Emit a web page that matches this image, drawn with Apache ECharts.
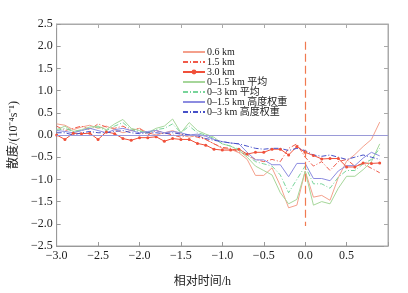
<!DOCTYPE html>
<html>
<head>
<meta charset="utf-8">
<script src="https://cdn.jsdelivr.net/npm/echarts@6/dist/echarts.min.js"></script>
<style>
html, body { margin: 0; padding: 0; background: #fff; }
#main { width: 408px; height: 293px; }
</style>
</head>
<body>
<div id="main"></div>
<script>
var times = [-3.0, -2.9, -2.8, -2.7, -2.6, -2.5, -2.4, -2.3, -2.2, -2.1,
    -2.0, -1.9, -1.8, -1.7, -1.6, -1.5, -1.4, -1.3, -1.2, -1.1,
    -1.0, -0.9, -0.8, -0.7, -0.6, -0.5, -0.4, -0.3, -0.2, -0.1,
    0.0, 0.1, 0.2, 0.3, 0.4, 0.5, 0.6, 0.7, 0.8, 0.9];

var km06 = [0.25, 0.22, 0.12, 0.18, 0.22, 0.15, 0.2, 0.12, 0.05, 0.1,
    0.15, 0.05, 0.0, 0.05, 0.1, 0.02, -0.05, 0.0, -0.1, -0.2,
    -0.3, -0.32, -0.4, -0.55, -0.91, -0.91, -0.74, -1.14, -1.64, -1.58,
    -0.81, -1.4, -1.36, -1.47, -0.96, -0.59, -0.44, -0.26, -0.1, 0.29];
var km15 = [0.2, 0.1, 0.15, 0.2, 0.12, 0.25, 0.18, 0.15, 0.2, 0.1,
    0.15, 0.0, 0.1, 0.05, 0.0, -0.05, 0.0, -0.05, -0.1, -0.2,
    -0.28, -0.3, -0.38, -0.45, -0.55, -0.6, -0.55, -0.6, -0.3, -0.2,
    -0.5, -0.7, -0.6, -0.8, -0.6, -0.55, -0.7, -0.65, -0.75, -0.85];
var km30 = [0.0, -0.1, 0.04, 0.03, 0.04, -0.1, 0.07, 0.03, -0.08, -0.12,
    -0.06, -0.06, -0.04, -0.14, -0.08, -0.1, -0.1, -0.19, -0.23, -0.32,
    -0.34, -0.34, -0.32, -0.43, -0.39, -0.39, -0.32, -0.32, -0.45, -0.26,
    -0.39, -0.46, -0.54, -0.53, -0.53, -0.72, -0.72, -0.63, -0.64, -0.63];
var avg15 = [0.12, 0.2, 0.08, 0.12, 0.18, 0.2, 0.12, 0.25, 0.35, 0.15,
    0.1, 0.05, 0.15, 0.2, 0.36, 0.05, 0.28, 0.1, 0.02, -0.05,
    -0.2, -0.25, -0.35, -0.5, -0.7, -0.8, -0.9, -1.3, -1.55, -1.45,
    -0.82, -1.58, -1.5, -1.55, -1.2, -0.93, -0.93, -0.78, -0.6, -0.2];
var avg30 = [0.1, 0.15, 0.08, 0.1, 0.15, 0.18, 0.1, 0.2, 0.28, 0.12,
    0.08, 0.05, 0.12, 0.15, 0.25, 0.05, 0.2, 0.05, 0.0, -0.08,
    -0.2, -0.25, -0.32, -0.45, -0.6, -0.65, -0.7, -0.9, -1.3, -1.0,
    -0.7, -1.1, -1.1, -1.2, -0.95, -0.8, -0.8, -0.65, -0.55, -0.3];
var wt15 = [0.1, 0.08, 0.05, 0.1, 0.15, 0.1, 0.05, 0.12, 0.15, 0.1,
    0.05, 0.08, 0.1, 0.05, 0.08, 0.05, 0.0, 0.02, -0.03, -0.1,
    -0.15, -0.18, -0.2, -0.39, -0.56, -0.56, -0.67, -0.67, -0.94, -0.64,
    -0.64, -0.98, -0.98, -1.03, -0.81, -0.69, -0.69, -0.52, -0.39, -0.47];
var wt30 = [0.05, 0.05, 0.0, 0.05, 0.08, 0.05, 0.05, 0.08, 0.1, 0.05,
    0.03, 0.05, 0.05, 0.03, 0.05, 0.02, 0.0, -0.02, -0.08, -0.12,
    -0.15, -0.18, -0.2, -0.25, -0.3, -0.32, -0.3, -0.3, -0.35, -0.3,
    -0.35, -0.45, -0.48, -0.45, -0.5, -0.55, -0.5, -0.45, -0.5, -0.55];

var names = ['0.6 km', '1.5 km', '3.0 km', '0\u20131.5 km 平均', '0\u20133 km 平均',
    '0\u20131.5 km 高度权重', '0\u20133 km 高度权重'];

function pairs(vals) {
    return times.map(function (t, i) { return [t, vals[i]]; });
}
function minus(v) {
    return v.toFixed(1).replace('-', '\u2212');
}

var font = "'Liberation Serif', 'Noto Sans CJK SC', serif";
var chart = echarts.init(document.getElementById('main'));

// only 3.0 km keeps its marker in the legend
var legendData = names.map(function (n, i) {
    return i === 2 ? { name: n } : { name: n, itemStyle: { opacity: 0 } };
});

var dashDot = [5, 2, 1, 2];

var option = {
    animation: false,
    textStyle: { fontFamily: font },
    legend: {
        orient: 'vertical',
        left: 177,
        top: 42,
        itemWidth: 22,
        itemHeight: 6,
        itemGap: 0,
        textStyle: { fontSize: 10, lineHeight: 9.5, color: '#222', fontFamily: font, padding: [0, 0, 0, -3] },
        data: legendData
    },
    grid: { left: 56, right: 20, top: 24, bottom: 41, show: true, borderColor: '#aaa', borderWidth: 1 },
    xAxis: [{
        type: 'value',
        min: -3,
        max: 1,
        interval: 0.5,
        name: '相对时间/h',
        nameLocation: 'middle',
        nameGap: 30,
        nameTextStyle: { fontSize: 12, color: '#222', padding: [0, 40, 0, 0] },
        axisLine: { onZero: false, lineStyle: { color: '#999' } },
        axisTick: { inside: true, length: 4, lineStyle: { color: '#999' } },
        axisLabel: {
            fontSize: 12, color: '#222', margin: 4,
            formatter: function (v) { return v >= 1 ? '' : minus(v); }
        },
        splitLine: { show: false }
    }, {
        type: 'value', position: 'top', min: -3, max: 1, interval: 0.5,
        axisLine: { onZero: false, lineStyle: { color: '#aaa' } },
        axisTick: { inside: true, length: 4, lineStyle: { color: '#aaa' } },
        axisLabel: { show: false }, splitLine: { show: false }
    }],
    yAxis: [{
        type: 'value',
        min: -2.5,
        max: 2.5,
        interval: 0.5,
        name: '散度/(10\u207B\u2074s\u207B\u00B9)',
        nameLocation: 'middle',
        nameGap: 35,
        nameTextStyle: { fontSize: 12, color: '#222' },
        axisLine: { onZero: false, lineStyle: { color: '#999' } },
        axisTick: { inside: true, length: 4, lineStyle: { color: '#999' } },
        axisLabel: { fontSize: 12, color: '#222', margin: 4, formatter: minus },
        splitLine: { show: false }
    }, {
        type: 'value', position: 'right', min: -2.5, max: 2.5, interval: 0.5,
        axisLine: { onZero: false, lineStyle: { color: '#aaa' } },
        axisTick: { inside: true, length: 4, lineStyle: { color: '#aaa' } },
        axisLabel: { show: false }, splitLine: { show: false }
    }],
    series: [
        {
            name: names[0], type: 'line', symbol: 'none',
            lineStyle: { color: '#f4a08c', width: 1 }, itemStyle: { color: '#f4a08c' },
            data: pairs(km06),
            markLine: {
                silent: true, symbol: 'none', label: { show: false },
                lineStyle: { color: '#9a9ad8', type: 'solid', width: 1 },
                data: [{ yAxis: 0 }]
            }
        },
        {
            name: names[1], type: 'line', symbol: 'none',
            lineStyle: { color: '#f05a4a', width: 1, type: dashDot }, itemStyle: { color: '#f05a4a' },
            data: pairs(km15),
            markLine: {
                silent: true, symbol: 'none', label: { show: false },
                lineStyle: { color: '#f07a50', type: [8, 4], width: 1.2, opacity: 1 },
                data: [[{ coord: [0, 2.1] }, { coord: [0, -2.05] }]]
            }
        },
        {
            name: names[2], type: 'line', symbol: 'circle', symbolSize: 3, showSymbol: true,
            lineStyle: { color: '#f0503a', width: 1 }, itemStyle: { color: '#f0503a' },
            data: pairs(km30)
        },
        {
            name: names[3], type: 'line', symbol: 'none',
            lineStyle: { color: '#a6d69a', width: 1 }, itemStyle: { color: '#a6d69a' },
            data: pairs(avg15)
        },
        {
            name: names[4], type: 'line', symbol: 'none',
            lineStyle: { color: '#78d49a', width: 1, type: dashDot }, itemStyle: { color: '#78d49a' },
            data: pairs(avg30)
        },
        {
            name: names[5], type: 'line', symbol: 'none',
            lineStyle: { color: '#8c8ce0', width: 1 }, itemStyle: { color: '#8c8ce0' },
            data: pairs(wt15)
        },
        {
            name: names[6], type: 'line', symbol: 'none',
            lineStyle: { color: '#4650c8', width: 1, type: dashDot }, itemStyle: { color: '#4650c8' },
            data: pairs(wt30)
        }
    ]
};

chart.setOption(option);
</script>
</body>
</html>
